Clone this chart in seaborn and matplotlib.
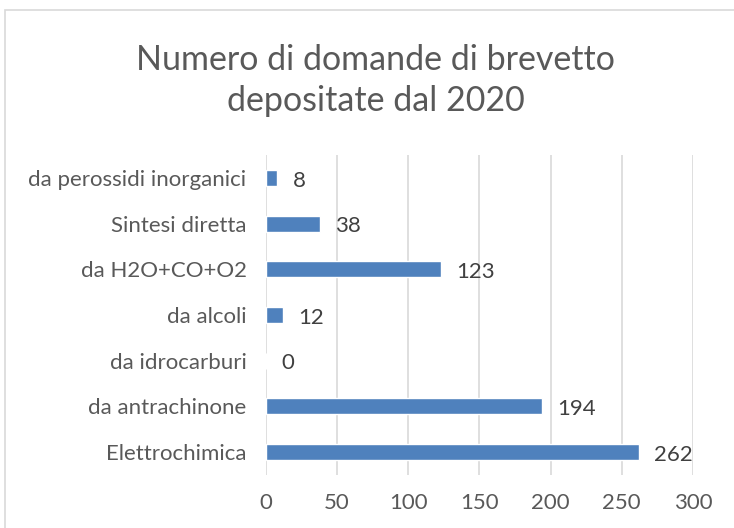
import matplotlib
matplotlib.use('Agg')
import matplotlib.pyplot as plt
import pandas as pd
import seaborn as sns

categories = ['da perossidi inorganici', 'Sintesi diretta', 'da H2O+CO+O2',
              'da alcoli', 'da idrocarburi', 'da antrachinone', 'Elettrochimica']
values = [8, 38, 123, 12, 0, 194, 262]
xticks = [0, 50, 100, 150, 200, 250, 300]
title = 'Numero di domande di brevetto\ndepositate dal 2020'

df = pd.DataFrame({'metodo': categories, 'domande': values})

sns.set_style('white')
plt.rcParams['font.family'] = ['Lato', 'DejaVu Sans']
grey = '#595959'

fig = plt.figure(figsize=(7.34, 5.28), dpi=100)
ax = fig.add_axes([0.3624, 0.1004, 0.5817, 0.6061])

sns.barplot(data=df, x='domande', y='metodo', orient='h', color='#4F81BD',
            saturation=1, width=0.35, ax=ax, zorder=3)

for i, v in enumerate(values):
    ax.annotate(str(v), (v, i), xytext=(11, -2), textcoords='offset points',
                ha='left', va='center', fontsize=16, color='#404040')

ax.set_xlim(0, 300)
ax.set_ylim(6.5, -0.5)
ax.set_xticks(xticks)
ax.grid(axis='x', color='#D9D9D9', linewidth=1.2, zorder=0)
ax.grid(axis='y', visible=False)
for s in ax.spines.values():
    s.set_visible(False)
ax.tick_params(axis='both', length=0, labelsize=16, colors=grey, pad=14)
ax.tick_params(axis='x', pad=13)
ax.set_xlabel('')
ax.set_ylabel('')

fig.text(0.512, 0.848, title, ha='center', va='center', fontsize=24.5,
         color=grey, linespacing=1.35)

border = plt.Rectangle((5 / 734, -0.05), 1.2, 1 - 10 / 528 + 0.05,
                       transform=fig.transFigure, fill=False,
                       edgecolor='#D9D9D9', linewidth=1.2)
fig.patches.append(border)

fig.savefig('out.png', dpi=100)
